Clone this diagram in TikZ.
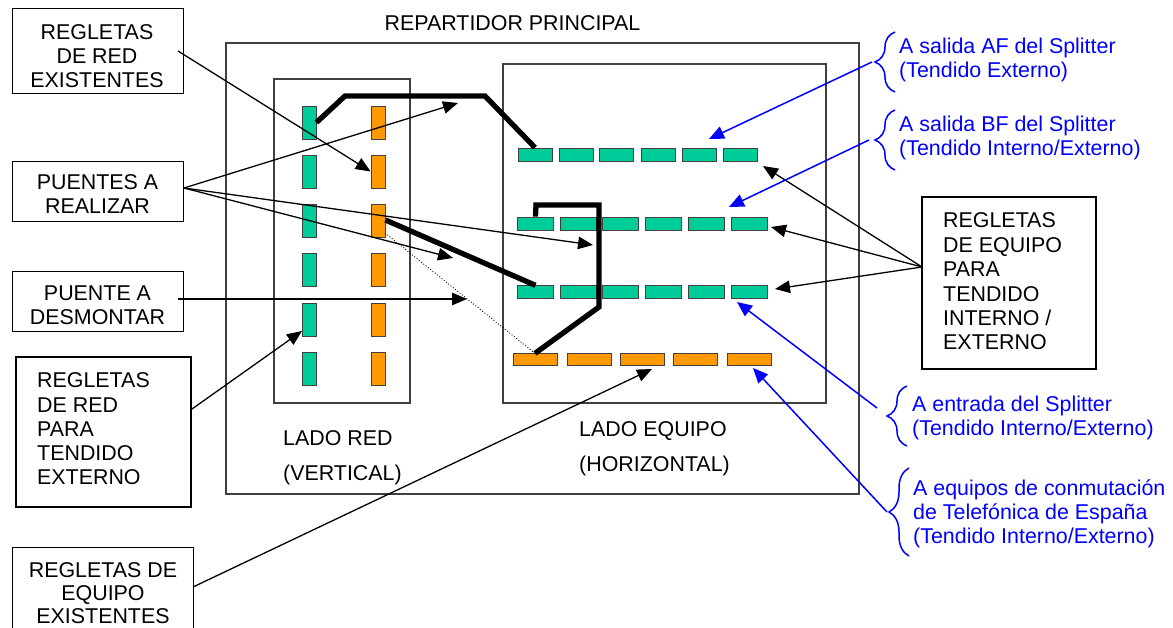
\documentclass[tikz,border=0pt]{standalone}
\usepackage{fontspec}
\setmainfont{Liberation Sans}
\usetikzlibrary{arrows.meta,decorations.pathreplacing}
\definecolor{grn}{RGB}{0,204,153}
\definecolor{org}{RGB}{255,153,0}
\definecolor{blu}{RGB}{0,0,255}
\begin{document}
\begin{tikzpicture}[x=1pt,y=-1pt,
  txt/.style={font=\fontsize{21.4}{24}\selectfont, inner sep=0pt},
  frame/.style={draw=black!75, line width=1.2pt, rectangle, inner sep=0pt},
  lbox/.style={draw, line width=1pt, rectangle, inner sep=0pt},
  tbox/.style={draw, line width=2pt, rectangle, inner sep=0pt},
  vstrip/.style={draw=black!75, line width=0.8pt, rectangle, inner sep=0pt, minimum width=14pt, minimum height=33pt},
  hstrip/.style={draw=black!75, line width=0.8pt, rectangle, inner sep=0pt, minimum height=13pt},
  gfill/.style={fill=grn},
  ofill/.style={fill=org},
  thick jumper/.style={line width=5.3pt, line join=miter},
  ptr/.style={line width=1.3pt, -{Triangle[length=15pt,width=12.5pt]}},
  bptr/.style={draw=blu, line width=1.5pt, -{Triangle[length=15pt,width=13pt]}},
  brc/.style={draw=blu, line width=1.5pt, decorate, decoration={brace, amplitude=20pt}},
  btxt/.style={txt, text=blu, align=left, anchor=west}
]
\useasboundingbox (0,0) rectangle (1173,628);

% frames
\node[frame, minimum width=633pt, minimum height=451pt] (fo) at (542.5,268.5) {};
\node[frame, minimum width=136pt, minimum height=324pt] (fl) at (342,241) {};
\node[frame, minimum width=323pt, minimum height=339pt] (fr) at (664.5,233.5) {};

\node[txt, anchor=base] (title) at (512.5,31) {REPARTIDOR PRINCIPAL};
\node[txt, anchor=base west] (lr1) at (283,445) {LADO RED};
\node[txt, anchor=base west] (lr2) at (283,480) {(VERTICAL)};
\node[txt, anchor=base west] (le1) at (579,436.7) {LADO EQUIPO};
\node[txt, anchor=base west] (le2) at (579,471.7) {(HORIZONTAL)};

% vertical strips
\foreach \i/\y in {1/122.5,2/171.5,3/221,4/270,5/319.5,6/369}{
  \node[vstrip, gfill] (gv\i) at (309,\y) {};
  \node[vstrip, ofill] (ov\i) at (378,\y) {};
}
% horizontal rows
\foreach \i/\x in {1/535,2/576,3/616,4/658,5/699,6/740}{
  \node[hstrip, gfill, minimum width=34pt] (ha\i) at (\x,154.5) {};
}
\foreach \i/\x in {1/535.5,2/578,3/620,4/663.5,5/706,6/749}{
  \node[hstrip, gfill, minimum width=36pt] (hb\i) at (\x,223.5) {};
  \node[hstrip, gfill, minimum width=36pt, minimum height=12.5pt] (hc\i) at (\x,292) {};
}
\foreach \i/\x in {1/535,2/589,3/642,4/695,5/749}{
  \node[hstrip, ofill, minimum width=44pt, minimum height=11.5pt] (ho\i) at (\x,359.5) {};
}

% jumpers
\draw[thick jumper] (gv1.east) -- (345,96) -- (485,96) -- (ha1.north);
\draw[thick jumper] (hb1.north) -- (536,205) -- (599,205) -- (599,307) -- (ho1.north);
\draw[thick jumper] ([yshift=1pt]ov3.east) -- (hc1.north);
\coordinate (dotS) at (385,233);
\draw[dotted, line width=0.9pt] (dotS) -- (ho1.north);

% black label boxes
\node[lbox, minimum width=171pt, minimum height=85pt] (b1) at (97.5,51.5) {};
\node[lbox, minimum width=171pt, minimum height=60pt] (b2) at (97.5,192) {};
\node[lbox, minimum width=171pt, minimum height=60pt] (b3) at (97.5,302) {};
\node[tbox, minimum width=175pt, minimum height=150pt] (b4) at (103.5,432) {};
\node[lbox, minimum width=181pt, minimum height=113pt] (b5) at (102.5,603.5) {};
\node[tbox, minimum width=174pt, minimum height=172pt] (b6) at (1009,283) {};

\node[txt, align=center] (t1) at (97,56) {REGLETAS\\DE RED\\EXISTENTES};
\node[txt, align=center] (t2) at (97.5,194) {PUENTES A\\REALIZAR};
\node[txt, align=center] (t3) at (97.5,305.5) {PUENTE A\\DESMONTAR};
\node[txt, align=left, anchor=west, font=\fontsize{21.4}{24.3}\selectfont] (t4) at (37,429) {REGLETAS\\DE RED\\PARA\\TENDIDO\\EXTERNO};
\node[txt, align=center, font=\fontsize{21.4}{23}\selectfont] (t5) at (103,593) {REGLETAS DE\\EQUIPO\\EXISTENTES};
\node[txt, align=left, anchor=west, font=\fontsize{21.4}{24.4}\selectfont] (t6) at (943,281.5) {REGLETAS\\DE EQUIPO\\PARA\\TENDIDO\\INTERNO /\\EXTERNO};

% black pointers
\coordinate (s1) at (178,51);
\draw[ptr] (s1) -- (ov2.west);
\coordinate (s2) at (184,188);
\coordinate (e2a) at (458,103);
\coordinate (e2b) at (593,245);
\coordinate (e2c) at (453,258);
\draw[ptr] (s2) -- (e2a);
\draw[ptr] (s2) -- (e2b);
\draw[ptr] (s2) -- (e2c);
\coordinate (s3) at (178,299);
\coordinate (e3) at (467,299);
\draw[ptr] (s3) -- (e3);
\coordinate (s4) at (192,409);
\coordinate (e4) at (302,331);
\draw[ptr] (s4) -- (e4);
\coordinate (s5) at (193,587);
\coordinate (e5) at (652,369);
\draw[ptr] (s5) -- (e5);
\coordinate (s6) at (922,267);
\coordinate (e6a) at (763,166);
\coordinate (e6b) at (771,227);
\coordinate (e6c) at (775,289);
\draw[ptr] (s6) -- (e6a);
\draw[ptr] (s6) -- (e6b);
\draw[ptr] (s6) -- (e6c);

% blue annotations
\draw[brc] (895,92) -- (895,32);
\draw[brc] (895,170) -- (895,110);
\draw[brc] (907,446) -- (907,386);
\draw[brc] (909,556) -- (909,468);
\node[btxt] (n1) at (899,59.5) {A salida AF del Splitter\\(Tendido Externo)};
\node[btxt] (n2) at (899,138) {A salida BF del Splitter\\(Tendido Interno/Externo)};
\node[btxt] (n3) at (912,418) {A entrada del Splitter\\(Tendido Interno/Externo)};
\node[btxt] (n4) at (913,513.5) {A equipos de conmutación\\de Telefónica de España\\(Tendido Interno/Externo)};
\coordinate (c1) at (872,62);
\coordinate (c2) at (869,140);
\coordinate (c3) at (877,408);
\coordinate (c4) at (887,512);
\coordinate (d1) at (709,139);
\coordinate (d2) at (729,207);
\coordinate (d3) at (737,302);
\coordinate (d4) at (753,368);
\draw[bptr] (c1) -- (d1);
\draw[bptr] (c2) -- (d2);
\draw[bptr] (c3) -- (d3);
\draw[bptr] (c4) -- (d4);
\end{tikzpicture}
\end{document}
